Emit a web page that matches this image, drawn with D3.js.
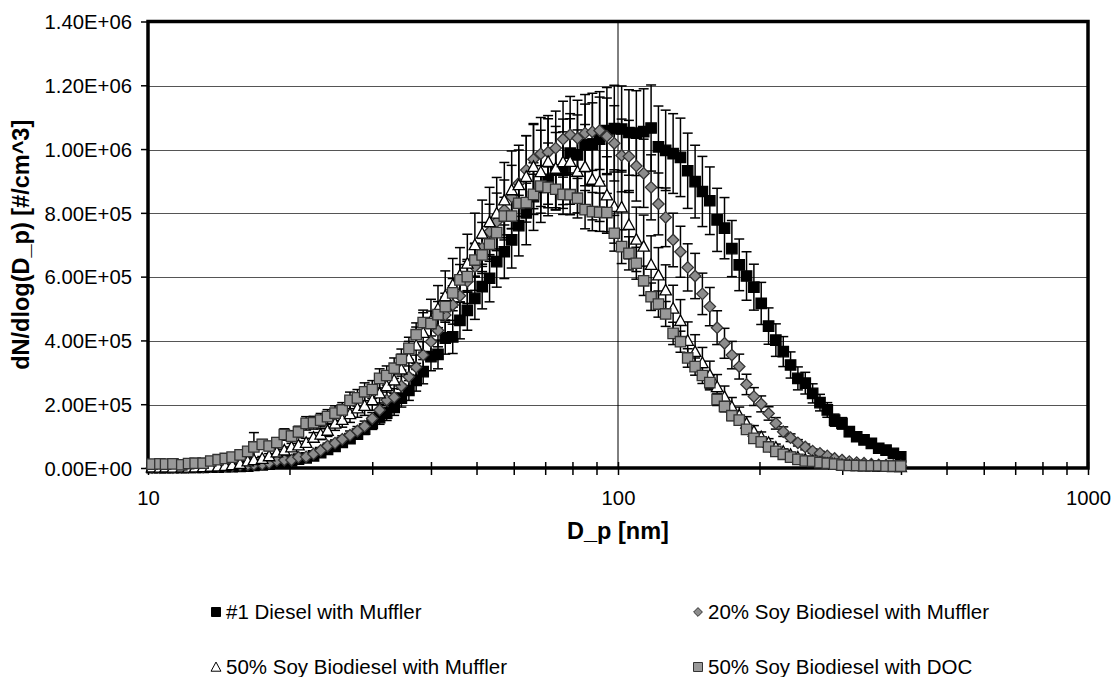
<!DOCTYPE html>
<meta charset="utf-8">
<title>Particle size distribution</title>
<style>

body { margin: 0; background: #fff; }
text { font-family: Arial, "Liberation Sans", sans-serif; }

.axis text { font-size: 20.3px; fill: #000; font-family: Arial, "Liberation Sans", sans-serif; }
.axis line { stroke: #000; stroke-width: 1.5; }
.grid line { stroke: #555; stroke-width: 1; shape-rendering: crispEdges; }
.label { font-size: 23.5px; font-weight: bold; }
.legend text { font-size: 20.5px; }

</style>
<body>

<script src="https://d3js.org/d3.v7.min.js"></script>
<script>

// particle diameters [nm] (SMPS channels)
var diam = [10.2, 10.6, 10.9, 11.3, 11.8, 12.2, 12.6, 13.1, 13.6, 14.1, 14.6, 15.1, 15.7, 16.3, 16.8, 17.5,
            18.1, 18.8, 19.5, 20.2, 20.9, 21.7, 22.5, 23.3, 24.1, 25.0, 25.9, 26.9, 27.9, 28.9, 30.0, 31.1,
            32.2, 33.4, 34.6, 35.9, 37.2, 38.5, 40.0, 41.4, 42.9, 44.5, 46.1, 47.8, 49.6, 51.4, 53.3, 55.2,
            57.3, 59.4, 61.5, 63.8, 66.1, 68.5, 71.0, 73.7, 76.4, 79.1, 82.0, 85.1, 88.2, 91.4, 94.7, 98.2,
            101.8, 105.5, 109.4, 113.4, 117.6, 121.9, 126.3, 131.0, 135.8, 140.7, 145.9, 151.2, 156.8, 162.5,
            168.5, 174.7, 181.1, 187.7, 194.6, 201.7, 209.1, 216.7, 224.7, 232.9, 241.4, 250.3, 259.5, 269.0,
            278.8, 289.0, 299.6, 310.6, 322.0, 333.8, 346.0, 358.7, 371.8, 385.4, 399.5];

// #1 Diesel with Muffler
var diesel = [1e3, 1e3, 1e3, 1e3, 1e3, 2e3, 2e3, 2e3, 3e3, 3e3, 4e3, 4e3, 5e3, 6e3, 8e3, 10e3, 12e3, 16e3, 20e3, 22e3,
              28e3, 32e3, 38e3, 48e3, 58e3, 68e3, 80e3, 92e3, 106e3, 122e3, 140e3, 158e3, 172e3, 190e3, 219e3, 243e3, 275e3, 302e3, 349e3, 356e3,
              407e3, 411e3, 463e3, 494e3, 532e3, 569e3, 595e3, 647e3, 678e3, 715e3, 760e3, 800e3, 851e3, 880e3, 905e3, 934e3, 934e3, 987e3, 982e3, 1013e3,
              1015e3, 1031e3, 1058e3, 1064e3, 1063e3, 1052e3, 1050e3, 1055e3, 1066e3, 1007e3, 996e3, 986e3, 974e3, 932e3, 898e3, 867e3, 838e3, 778e3, 752e3, 688e3,
              637e3, 602e3, 567e3, 516e3, 445e3, 401e3, 365e3, 323e3, 281e3, 266e3, 234e3, 205e3, 182e3, 150e3, 140e3, 114e3, 98e3, 88e3, 77e3, 62e3,
              56e3, 46e3, 35e3];
var dieselErr = [1e3, 1e3, 1e3, 1e3, 1e3, 1e3, 1e3, 1e3, 1e3, 1e3, 2e3, 2e3, 2e3, 2e3, 2e3, 3e3, 3e3, 4e3, 4e3, 5e3,
                 6e3, 6e3, 7e3, 8e3, 9e3, 10e3, 12e3, 13e3, 15e3, 17e3, 19e3, 21e3, 23e3, 25e3, 28e3, 31e3, 34e3, 38e3, 44e3, 45e3,
                 50e3, 52e3, 58e3, 62e3, 66e3, 70e3, 74e3, 80e3, 84e3, 88e3, 95e3, 100e3, 106e3, 110e3, 114e3, 118e3, 120e3, 124e3, 125e3, 128e3,
                 130e3, 132e3, 135e3, 136e3, 135e3, 134e3, 133e3, 134e3, 135e3, 128e3, 126e3, 125e3, 123e3, 118e3, 114e3, 110e3, 106e3, 99e3, 96e3, 88e3,
                 81e3, 76e3, 72e3, 66e3, 57e3, 51e3, 47e3, 41e3, 36e3, 34e3, 30e3, 26e3, 23e3, 19e3, 18e3, 15e3, 13e3, 11e3, 10e3, 8e3,
                 7e3, 6e3, 5e3];

// 20% Soy Biodiesel with Muffler
var soy20 = [1e3, 1e3, 2e3, 1e3, 2e3, 2e3, 3e3, 3e3, 4e3, 5e3, 6e3, 7e3, 9e3, 10e3, 11e3, 12e3, 16e3, 23e3, 25e3, 25e3,
             34e3, 35e3, 44e3, 55e3, 69e3, 78e3, 90e3, 103e3, 116e3, 131e3, 155e3, 182e3, 213e3, 222e3, 257e3, 286e3, 316e3, 354e3, 396e3, 431e3,
             480e3, 511e3, 540e3, 585e3, 631e3, 690e3, 741e3, 772e3, 809e3, 850e3, 893e3, 934e3, 968e3, 985e3, 990e3, 1003e3, 1031e3, 1045e3, 1034e3, 1050e3,
             1054e3, 1058e3, 1040e3, 1018e3, 980e3, 977e3, 947e3, 924e3, 880e3, 828e3, 786e3, 715e3, 678e3, 629e3, 602e3, 546e3, 506e3, 440e3, 391e3, 354e3,
             318e3, 262e3, 224e3, 201e3, 171e3, 140e3, 114e3, 95e3, 79e3, 66e3, 53e3, 46e3, 38e3, 30e3, 25e3, 20e3, 17e3, 15e3, 12e3, 10e3,
             9e3, 8e3, 7e3];
var soy20Err = [1e3, 1e3, 1e3, 1e3, 1e3, 1e3, 1e3, 1e3, 1e3, 1e3, 2e3, 2e3, 2e3, 2e3, 2e3, 2e3, 3e3, 4e3, 4e3, 4e3,
                5e3, 5e3, 6e3, 7e3, 9e3, 10e3, 11e3, 13e3, 14e3, 16e3, 19e3, 22e3, 25e3, 27e3, 31e3, 34e3, 38e3, 42e3, 47e3, 51e3,
                56e3, 60e3, 64e3, 69e3, 74e3, 80e3, 86e3, 90e3, 94e3, 99e3, 104e3, 108e3, 112e3, 114e3, 115e3, 116e3, 119e3, 120e3, 119e3, 121e3,
                121e3, 122e3, 120e3, 118e3, 114e3, 113e3, 110e3, 107e3, 102e3, 97e3, 92e3, 84e3, 80e3, 74e3, 71e3, 65e3, 60e3, 53e3, 47e3, 43e3,
                39e3, 32e3, 28e3, 25e3, 21e3, 18e3, 15e3, 12e3, 10e3, 9e3, 7e3, 6e3, 5e3, 4e3, 4e3, 3e3, 3e3, 2e3, 2e3, 2e3,
                2e3, 1e3, 1e3];

// 50% Soy Biodiesel with Muffler
var soy50 = [3e3, 2e3, 3e3, 2e3, 3e3, 2e3, 3e3, 4e3, 5e3, 6e3, 8e3, 10e3, 14e3, 22e3, 26e3, 30e3, 38e3, 50e3, 56e3, 66e3,
             72e3, 80e3, 96e3, 106e3, 118e3, 140e3, 152e3, 170e3, 188e3, 196e3, 214e3, 235e3, 258e3, 276e3, 310e3, 345e3, 385e3, 425e3, 462e3, 500e3,
             540e3, 575e3, 605e3, 642e3, 700e3, 736e3, 772e3, 799e3, 840e3, 872e3, 888e3, 914e3, 945e3, 929e3, 961e3, 940e3, 960e3, 961e3, 930e3, 945e3,
             905e3, 899e3, 856e3, 820e3, 818e3, 763e3, 717e3, 695e3, 638e3, 605e3, 558e3, 501e3, 462e3, 400e3, 365e3, 330e3, 292e3, 255e3, 224e3, 192e3,
             166e3, 140e3, 115e3, 98e3, 80e3, 65e3, 52e3, 42e3, 34e3, 27e3, 22e3, 18e3, 14e3, 12e3, 10e3, 8e3, 7e3, 6e3, 6e3, 5e3,
             5e3, 4e3, 4e3];
var soy50Err = [2e3, 2e3, 2e3, 2e3, 2e3, 2e3, 2e3, 2e3, 3e3, 3e3, 3e3, 4e3, 4e3, 5e3, 6e3, 6e3, 7e3, 9e3, 10e3, 11e3,
                12e3, 13e3, 15e3, 17e3, 19e3, 22e3, 24e3, 27e3, 29e3, 31e3, 33e3, 36e3, 39e3, 42e3, 47e3, 52e3, 57e3, 62e3, 67e3, 72e3,
                78e3, 82e3, 86e3, 91e3, 99e3, 104e3, 108e3, 112e3, 118e3, 122e3, 124e3, 128e3, 132e3, 130e3, 134e3, 131e3, 134e3, 134e3, 130e3, 132e3,
                127e3, 126e3, 120e3, 115e3, 115e3, 107e3, 101e3, 98e3, 90e3, 86e3, 79e3, 72e3, 66e3, 58e3, 53e3, 48e3, 43e3, 38e3, 33e3, 29e3,
                25e3, 21e3, 18e3, 15e3, 12e3, 10e3, 8e3, 7e3, 6e3, 5e3, 4e3, 3e3, 3e3, 2e3, 2e3, 2e3, 2e3, 1e3, 1e3, 1e3,
                1e3, 1e3, 1e3];

// 50% Soy Biodiesel with DOC
var soyDoc = [12e3, 13e3, 12e3, 13e3, 10e3, 14e3, 15e3, 15e3, 22e3, 26e3, 30e3, 34e3, 41e3, 52e3, 66e3, 74e3, 69e3, 80e3, 105e3, 100e3,
              113e3, 140e3, 142e3, 150e3, 161e3, 172e3, 182e3, 212e3, 220e3, 239e3, 246e3, 281e3, 290e3, 313e3, 340e3, 375e3, 418e3, 456e3, 453e3, 481e3,
              506e3, 549e3, 590e3, 600e3, 652e3, 668e3, 702e3, 738e3, 790e3, 790e3, 830e3, 832e3, 858e3, 884e3, 880e3, 874e3, 858e3, 857e3, 846e3, 810e3,
              804e3, 802e3, 801e3, 736e3, 694e3, 673e3, 642e3, 587e3, 537e3, 514e3, 483e3, 422e3, 396e3, 345e3, 318e3, 290e3, 268e3, 215e3, 193e3, 164e3,
              150e3, 121e3, 93e3, 82e3, 66e3, 52e3, 43e3, 34e3, 27e3, 22e3, 21e3, 17e3, 15e3, 12e3, 9e3, 8e3, 8e3, 7e3, 7e3, 7e3,
              6e3, 6e3, 6e3];
var soyDocErr = [4e3, 4e3, 4e3, 4e3, 4e3, 5e3, 5e3, 5e3, 6e3, 7e3, 8e3, 9e3, 10e3, 12e3, 45e3, 15e3, 14e3, 15e3, 18e3, 17e3,
                 18e3, 21e3, 20e3, 21e3, 22e3, 23e3, 23e3, 26e3, 26e3, 28e3, 28e3, 30e3, 30e3, 32e3, 33e3, 35e3, 37e3, 39e3, 39e3, 41e3,
                 42e3, 45e3, 48e3, 48e3, 51e3, 52e3, 54e3, 56e3, 59e3, 59e3, 61e3, 61e3, 63e3, 64e3, 64e3, 64e3, 63e3, 63e3, 62e3, 60e3,
                 60e3, 60e3, 60e3, 56e3, 53e3, 52e3, 50e3, 46e3, 43e3, 41e3, 39e3, 35e3, 33e3, 29e3, 27e3, 25e3, 23e3, 19e3, 17e3, 15e3,
                 14e3, 11e3, 9e3, 8e3, 6e3, 5e3, 4e3, 3e3, 3e3, 2e3, 2e3, 2e3, 2e3, 1e3, 1e3, 1e3, 1e3, 1e3, 1e3, 1e3,
                 1e3, 1e3, 1e3];

var seriesNames = ["#1 Diesel with Muffler", "20% Soy Biodiesel with Muffler",
                   "50% Soy Biodiesel with Muffler", "50% Soy Biodiesel with DOC"];

var yTicks = [0, 2e5, 4e5, 6e5, 8e5, 1e6, 1.2e6, 1.4e6];
var xTicks = [10, 20, 30, 40, 50, 60, 70, 80, 90, 100, 200, 300, 400, 500, 600, 700, 800, 900, 1000];
var xLabels = [10, 100, 1000];

// series table: drawing order is Excel's (diesel first, DOC on top)
var series = [
    {name: seriesNames[0], values: diesel, errors: dieselErr, shape: "square", fill: "#000", stroke: "#000"},
    {name: seriesNames[1], values: soy20, errors: soy20Err, shape: "diamond", fill: "#8c8c8c", stroke: "#333"},
    {name: seriesNames[2], values: soy50, errors: soy50Err, shape: "triangle", fill: "#fff", stroke: "#000"},
    {name: seriesNames[3], values: soyDoc, errors: soyDocErr, shape: "square", fill: "#999", stroke: "#333"}
];

// set the dimensions and margins of the graph
var margin = {top: 21.5, right: 25, bottom: 209, left: 148},
    width = 1113 - margin.left - margin.right,
    height = 677 - margin.top - margin.bottom;

var x = d3.scaleLog().domain([10, 1000]).range([0, width]);
var y = d3.scaleLinear().domain([0, 1.4e6]).range([height, 0]);

function sci(v) {
    if (v === 0) return "0.00E+00";
    var e = Math.floor(Math.log10(v) + 1e-9);
    var m = v / Math.pow(10, e);
    return m.toFixed(2) + "E" + (e < 0 ? "-" : "+") + (Math.abs(e) < 10 ? "0" : "") + Math.abs(e);
}

// marker path for a shape, r = half size
function markerPath(shape, r) {
    if (shape === "square") return "M" + (-r) + "," + (-r) + "H" + r + "V" + r + "H" + (-r) + "Z";
    if (shape === "diamond") { var d = r * 1.1; return "M0," + (-d) + "L" + d + ",0L0," + d + "L" + (-d) + ",0Z"; }
    var t = r * 1.1;
    return "M0," + (-t) + "L" + t + "," + (t * 0.85) + "L" + (-t) + "," + (t * 0.85) + "Z";
}

var svg = d3.select("body").append("svg")
    .attr("width", 1113)
    .attr("height", 677)
  .append("g")
    .attr("transform", "translate(" + margin.left + "," + margin.top + ")");

// horizontal gridlines
svg.append("g")
    .attr("class", "grid")
  .selectAll("line")
  .data(yTicks.slice(1, -1))
  .enter().append("line")
    .attr("x1", 0).attr("x2", width)
    .attr("y1", function(d) { return Math.round(y(d)) + 0.5; })
    .attr("y2", function(d) { return Math.round(y(d)) + 0.5; });

// vertical gridline at 100 nm
svg.append("line")
    .attr("x1", x(100)).attr("x2", x(100))
    .attr("y1", 0).attr("y2", height)
    .attr("stroke", "#000").attr("stroke-width", 1);

// Y axis
var yAxis = svg.append("g")
    .attr("class", "axis")
    .call(d3.axisLeft(y).tickValues(yTicks).tickSize(7).tickPadding(9).tickFormat(sci));
yAxis.select(".domain").remove();
yAxis.selectAll("text").attr("dy", "0.36em");

// X axis (ticks cross the axis line)
var xAxis = svg.append("g")
    .attr("class", "axis")
    .attr("transform", "translate(0," + height + ")")
    .call(d3.axisBottom(x).tickValues(xTicks)
          .tickFormat(function(d) { return xLabels.indexOf(d) >= 0 ? d : ""; }));
xAxis.select(".domain").remove();
xAxis.selectAll(".tick line").attr("y1", -6).attr("y2", 7).attr("stroke-width", 2.5);
xAxis.selectAll(".tick text").attr("y", 22).attr("dy", "0.72em");

// error bars
series.forEach(function(s) {
    var g = svg.append("g").attr("stroke", "#000").attr("stroke-width", 1.5).attr("fill", "none");
    var pts = s.values.map(function(v, i) { return {d: diam[i], v: v, e: s.errors[i]}; });
    var eb = g.selectAll("g").data(pts).enter().append("g");
    eb.append("line")
        .attr("x1", function(p) { return x(p.d); }).attr("x2", function(p) { return x(p.d); })
        .attr("y1", function(p) { return y(p.v + p.e); }).attr("y2", function(p) { return y(p.v - p.e); });
    eb.append("line")
        .attr("x1", function(p) { return x(p.d) - 5; }).attr("x2", function(p) { return x(p.d) + 5; })
        .attr("y1", function(p) { return y(p.v + p.e); }).attr("y2", function(p) { return y(p.v + p.e); });
    eb.append("line")
        .attr("x1", function(p) { return x(p.d) - 5; }).attr("x2", function(p) { return x(p.d) + 5; })
        .attr("y1", function(p) { return y(p.v - p.e); }).attr("y2", function(p) { return y(p.v - p.e); });
});

// plot border
svg.append("rect")
    .attr("width", width).attr("height", height)
    .attr("fill", "none").attr("stroke", "#000").attr("stroke-width", 3.5);

// markers
series.forEach(function(s) {
    svg.append("g").selectAll("path")
        .data(s.values)
        .enter().append("path")
        .attr("transform", function(v, i) { return "translate(" + x(diam[i]) + "," + y(v) + ")"; })
        .attr("d", markerPath(s.shape, 5.2))
        .attr("fill", s.fill)
        .attr("stroke", s.stroke)
        .attr("stroke-width", 1.3);
});

// axis titles
svg.append("text")
    .attr("class", "label")
    .attr("text-anchor", "middle")
    .attr("x", width / 2)
    .attr("y", height + 71)
    .text("D_p [nm]");

svg.append("text")
    .attr("class", "label")
    .attr("text-anchor", "middle")
    .attr("transform", "translate(" + (29 - margin.left) + "," + (height / 2) + ") rotate(-90)")
    .text("dN/dlog(D_p) [#/cm^3]");

// legend
var legendPos = [[216, 612], [698, 612], [216, 667], [698, 667]];
var legend = d3.select("svg").append("g").attr("class", "legend");
series.forEach(function(s, i) {
    var p = legendPos[i];
    legend.append("path")
        .attr("transform", "translate(" + p[0] + "," + p[1] + ")")
        .attr("d", markerPath(s.shape, s.shape === "diamond" ? 4 : 4.5))
        .attr("fill", s.fill).attr("stroke", s.stroke).attr("stroke-width", 1);
    legend.append("text")
        .attr("x", p[0] + 10).attr("y", p[1] + 7)
        .text(s.name);
});

</script>
</body>
